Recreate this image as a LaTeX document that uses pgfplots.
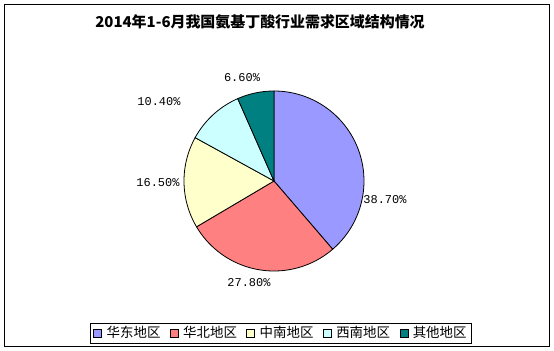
\documentclass[border=0pt]{standalone}
\usepackage{fontspec}
\setmainfont{Noto Sans CJK SC}
\newfontfamily\pctfont{Liberation Mono}
\usepackage{pgfplots}
\pgfplotsset{compat=1.18}
\definecolor{cEast}{HTML}{9999FF}
\definecolor{cNorth}{HTML}{FF8080}
\definecolor{cSouth}{HTML}{FFFFCC}
\definecolor{cWest}{HTML}{CCFFFF}
\definecolor{cOther}{HTML}{008080}
\begin{document}
\begin{tikzpicture}
\useasboundingbox (0,0) rectangle (554bp,351bp);
\begin{axis}[
  at={(0,0)}, anchor=origin,
  x=1bp, y=1bp,
  xmin=0, xmax=554, ymin=0, ymax=351,
  hide axis, clip=false,
  legend columns=5,
  legend style={at={(axis cs:281,18)}, anchor=center, draw=black, line width=0.8pt,
    font=\fontsize{13.5}{15}\selectfont, inner xsep=3bp, inner ysep=1.5bp},
  /tikz/every even column/.append style={column sep=7.5bp},
  legend image code/.code={\draw[#1,draw=black,line width=0.7pt] (0bp,-4bp) rectangle (8bp,4bp);
    \path (10.5bp,0bp);},
]
% shares (%): 38.7, 27.8, 16.5, 10.4, 6.6 ; angles = cumulative share * 3.6, clockwise from top
\addplot[fill=cEast, draw=black, line width=0.8pt, domain=0:139.32, samples=90]
  ({274+90*sin(x)},{170+90*cos(x)}) -- (axis cs:274,170) -- cycle;
\addlegendentry{华东地区}
\addplot[fill=cNorth, draw=black, line width=0.8pt, domain=139.32:239.4, samples=70]
  ({274+90*sin(x)},{170+90*cos(x)}) -- (axis cs:274,170) -- cycle;
\addlegendentry{华北地区}
\addplot[fill=cSouth, draw=black, line width=0.8pt, domain=239.4:298.8, samples=50]
  ({274+90*sin(x)},{170+90*cos(x)}) -- (axis cs:274,170) -- cycle;
\addlegendentry{中南地区}
\addplot[fill=cWest, draw=black, line width=0.8pt, domain=298.8:336.24, samples=40]
  ({274+90*sin(x)},{170+90*cos(x)}) -- (axis cs:274,170) -- cycle;
\addlegendentry{西南地区}
\addplot[fill=cOther, draw=black, line width=0.8pt, domain=336.24:360, samples=30]
  ({274+90*sin(x)},{170+90*cos(x)}) -- (axis cs:274,170) -- cycle;
\addlegendentry{其他地区}
% labels
\node[font=\pctfont\fontsize{12}{14}\selectfont] at (axis cs:385,151) {38.70\%};
\node[font=\pctfont\fontsize{12}{14}\selectfont] at (axis cs:249,68) {27.80\%};
\node[font=\pctfont\fontsize{12}{14}\selectfont] at (axis cs:158,168) {16.50\%};
\node[font=\pctfont\fontsize{12}{14}\selectfont] at (axis cs:159,249) {10.40\%};
\node[font=\pctfont\fontsize{12}{14}\selectfont] at (axis cs:242,273) {6.60\%};
% title
\node[font=\bfseries\fontsize{15}{17}\selectfont] at (axis cs:260,329.5) {2014年1-6月我国氨基丁酸行业需求区域结构情况};
% outer frame
\draw[black, line width=0.8pt] (axis cs:4.5,4.5) rectangle (axis cs:549.5,346.5);
\end{axis}
\end{tikzpicture}
\end{document}
